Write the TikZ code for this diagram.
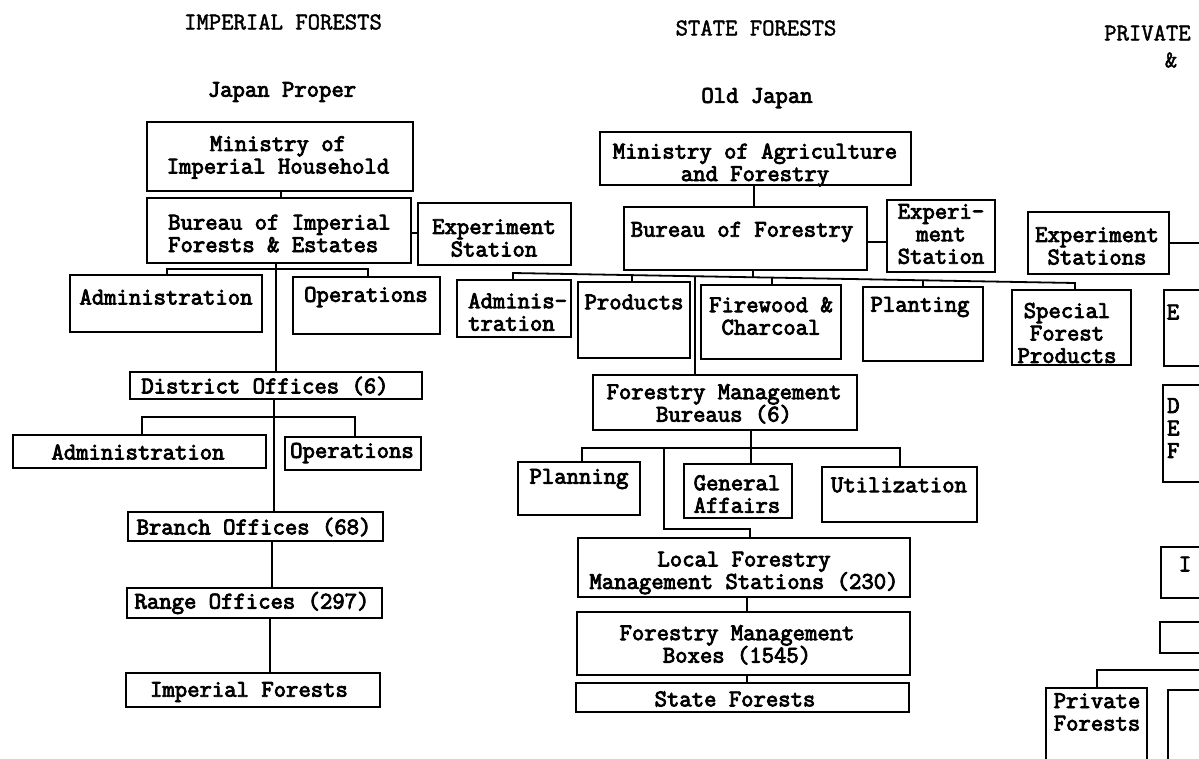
\documentclass[tikz,border=0pt]{standalone}
\usepackage{fontspec}
\newfontfamily\tw{Latin Modern Mono}[FakeBold=3.5]
\newfontfamily\twl{Latin Modern Mono}[FakeBold=1.8]
\newcommand{\mkbox}[5]{\node[bx, minimum width={(#4-#2)*1pt}, minimum height={(#5-#3)*1pt}] (#1) at ({(#2+#4)/2},{(#3+#5)/2}) {};}
\begin{document}
\begin{tikzpicture}[x=1pt,y=-1pt,
  bx/.style={draw, line width=1.8pt, inner sep=0pt, outer sep=0pt},
  tx/.style={font=\tw\fontsize{24}{22.5}\selectfont, inner sep=0pt, align=center},
  ttl/.style={font=\twl\fontsize{24}{22.5}\selectfont, inner sep=0pt},
  ln/.style={line width=1.8pt}]
\useasboundingbox (0,0) rectangle (1199,758);
\clip (0,0) rectangle (1199,758);
\fill[white] (0,0) rectangle (1199,758);

% titles
\node[ttl] (t1) at (283,22) {IMPERIAL FORESTS};
\node[ttl] (t2) at (756,28) {STATE FORESTS};
\node[ttl, anchor=west] (t3) at (1104,33) {PRIVATE};
\node[ttl] (t4) at (1171,60) {\&};
\node[tx] (s1) at (282,92) {Japan Proper};
\node[tx] (s2) at (757,98) {Old Japan};

% left column
\mkbox{minih}{147}{122}{413}{191}
\node[tx] (minihT) at (278,157.5) {Ministry of\\Imperial Household};
\mkbox{burif}{147}{198}{411}{263}
\node[tx, anchor=west, align=left] (burifT) at (168,233.5) {Bureau of Imperial\\Forests \& Estates};
\mkbox{expl}{418}{203}{571}{265}
\node[tx] (explT) at (494,238) {Experiment\\Station};
\mkbox{adm1}{70}{275}{262}{332}
\node[tx] (adm1T) at (166,297) {Administration};
\mkbox{ops1}{293}{277}{440}{334}
\node[tx] (ops1T) at (366,297) {Operations};
\mkbox{dist}{130}{372}{422}{399}
\node[tx] (distT) at (265,386) {District Offices (6)};
\mkbox{adm2}{13}{435}{266}{468}
\node[tx] (adm2T) at (138,452) {Administration};
\mkbox{ops2}{285}{437}{421}{470}
\node[tx] (ops2T) at (352,453) {Operations};
\mkbox{branch}{128}{512}{383}{541}
\node[tx] (branchT) at (254,527) {Branch Offices (68)};
\mkbox{range}{127}{588}{382}{618}
\node[tx] (rangeT) at (252,603) {Range Offices (297)};
\mkbox{impf}{126}{673}{380}{707}
\node[tx] (impfT) at (249,692) {Imperial Forests};

% middle column
\mkbox{minaf}{600}{132}{911}{185}
\node[tx] (minafT) at (755,165) {Ministry of Agriculture\\and Forestry};
\mkbox{burf}{624}{207}{867}{270}
\node[tx] (burfT) at (742,232) {Bureau of Forestry};
\mkbox{expm}{887}{200}{995}{272}
\node[tx] (expmT) at (941,234) {Experi-\\ment\\Station};
\mkbox{expr}{1028}{212}{1169}{274}
\node[tx] (exprT) at (1097,246) {Experiment\\Stations};
\mkbox{admm}{457}{280}{571}{337}
\node[tx, anchor=west, align=left] (admmT) at (468,312) {Adminis-\\tration};
\mkbox{prod}{578}{282}{690}{358}
\node[tx] (prodT) at (634,302) {Products};
\mkbox{fire}{701}{285}{841}{359}
\node[tx] (fireT) at (771,316) {Firewood \&\\Charcoal};
\mkbox{plant}{863}{287}{983}{361}
\node[tx] (plantT) at (920,307) {Planting};
\mkbox{spec}{1012}{290}{1131}{365}
\node[tx] (specT) at (1067,333) {Special\\Forest\\Products};
\mkbox{fmb}{593}{375}{857}{430}
\node[tx] (fmbT) at (724,404) {Forestry Management\\Bureaus (6)};
\mkbox{plan}{518}{462}{640}{515}
\node[tx] (planT) at (579,479) {Planning};
\mkbox{gen}{684}{464}{792}{518}
\node[tx] (genT) at (737,494) {General\\Affairs};
\mkbox{util}{822}{467}{977}{522}
\node[tx] (utilT) at (899,485) {Utilization};
\mkbox{lfms}{578}{538}{910}{597}
\node[tx] (lfmsT) at (744,573) {Local Forestry\\Management Stations (230)};
\mkbox{fmbox}{577}{612}{910}{675}
\node[tx] (fmboxT) at (737,645) {Forestry Management\\Boxes (1545)};
\mkbox{statef}{576}{683}{909}{712}
\node[tx] (statefT) at (735,699) {State Forests};

% right edge (cut off)
\mkbox{rE}{1164}{290}{1240}{366}
\node[tx] (rET) at (1173,312) {E};
\mkbox{rDEF}{1163}{385}{1240}{482}
\node[tx, anchor=west, align=left] (rDEFT) at (1167,428) {D\\E\\F};
\mkbox{rthree}{1161}{547}{1240}{598}
\node[tx] (rthreeT) at (1185,564) {I};
\mkbox{rfour}{1160}{622}{1240}{653}
\mkbox{privf}{1046}{688}{1147}{790}
\node[tx] (privfT) at (1097,712) {Private\\Forests};
\mkbox{rsix}{1168}{690}{1240}{790}

% connectors, left
\coordinate (c1) at (281,0);
\draw[ln] (minih.south -| c1) -- (burif.north -| c1);
\coordinate (c2) at (0,233);
\draw[ln] (burif.east |- c2) -- (expl.west |- c2);
\coordinate (tL) at (276,0);
\draw[ln] (burif.south -| tL) -- (dist.north -| tL);
\coordinate (b1a) at (167,269);
\coordinate (b1b) at (368,269);
\draw[ln] (adm1.north -| b1a) -- (b1a) -- (b1b) -- (ops1.north -| b1b);
\coordinate (tL2) at (274,0);
\draw[ln] (dist.south -| tL2) -- (branch.north -| tL2);
\coordinate (b2a) at (142,417);
\coordinate (b2b) at (355,417);
\draw[ln] (adm2.north -| b2a) -- (b2a) -- (b2b) -- (ops2.north -| b2b);
\coordinate (tL3) at (272,0);
\draw[ln] (branch.south -| tL3) -- (range.north -| tL3);
\coordinate (tL4) at (270,0);
\draw[ln] (range.south -| tL4) -- (impf.north -| tL4);

% connectors, middle
\coordinate (c3) at (754,0);
\draw[ln] (minaf.south -| c3) -- (burf.north -| c3);
\coordinate (c4) at (0,242);
\draw[ln] (burf.east |- c4) -- (expm.west |- c4);
\coordinate (mbL) at (513,273);
\coordinate (mbR) at (1075,283);
\coordinate (mb1) at (632,275.1);
\coordinate (mbT) at (695,276.2);
\coordinate (mbB) at (753,277.3);
\coordinate (mb3) at (772,277.6);
\coordinate (mb4) at (923,280.3);
\draw[ln] (admm.north -| mbL) -- (mbL) -- (mbR) -- (spec.north -| mbR);
\draw[ln] (mb1) -- (prod.north -| mb1);
\draw[ln] (burf.south -| mbB) -- (mbB);
\draw[ln] (mb3) -- (fire.north -| mb3);
\draw[ln] (mb4) -- (plant.north -| mb4);
\draw[ln] (mbT) -- (fmb.north -| mbT);
\coordinate (fb) at (751,448);
\coordinate (fbL) at (582,448);
\coordinate (fbR) at (900,448);
\draw[ln] (fmb.south -| fb) -- (gen.north -| fb);
\draw[ln] (plan.north -| fbL) -- (fbL) -- (fbR) -- (util.north -| fbR);
\coordinate (fk1) at (664,448);
\coordinate (fk2) at (664,529);
\coordinate (fk3) at (750,529);
\draw[ln] (fk1) -- (fk2) -- (fk3) -- (lfms.north -| fk3);
\coordinate (c5) at (747,0);
\draw[ln] (lfms.south -| c5) -- (fmbox.north -| c5);
\draw[ln] (fmbox.south -| c5) -- (statef.north -| c5);

% connectors, right
\coordinate (er) at (1240,243);
\draw[ln] (expr.east |- er) -- (er);
\coordinate (pb) at (1097,670);
\coordinate (pbR) at (1240,670);
\draw[ln] (privf.north -| pb) -- (pb) -- (pbR);
\end{tikzpicture}
\end{document}
